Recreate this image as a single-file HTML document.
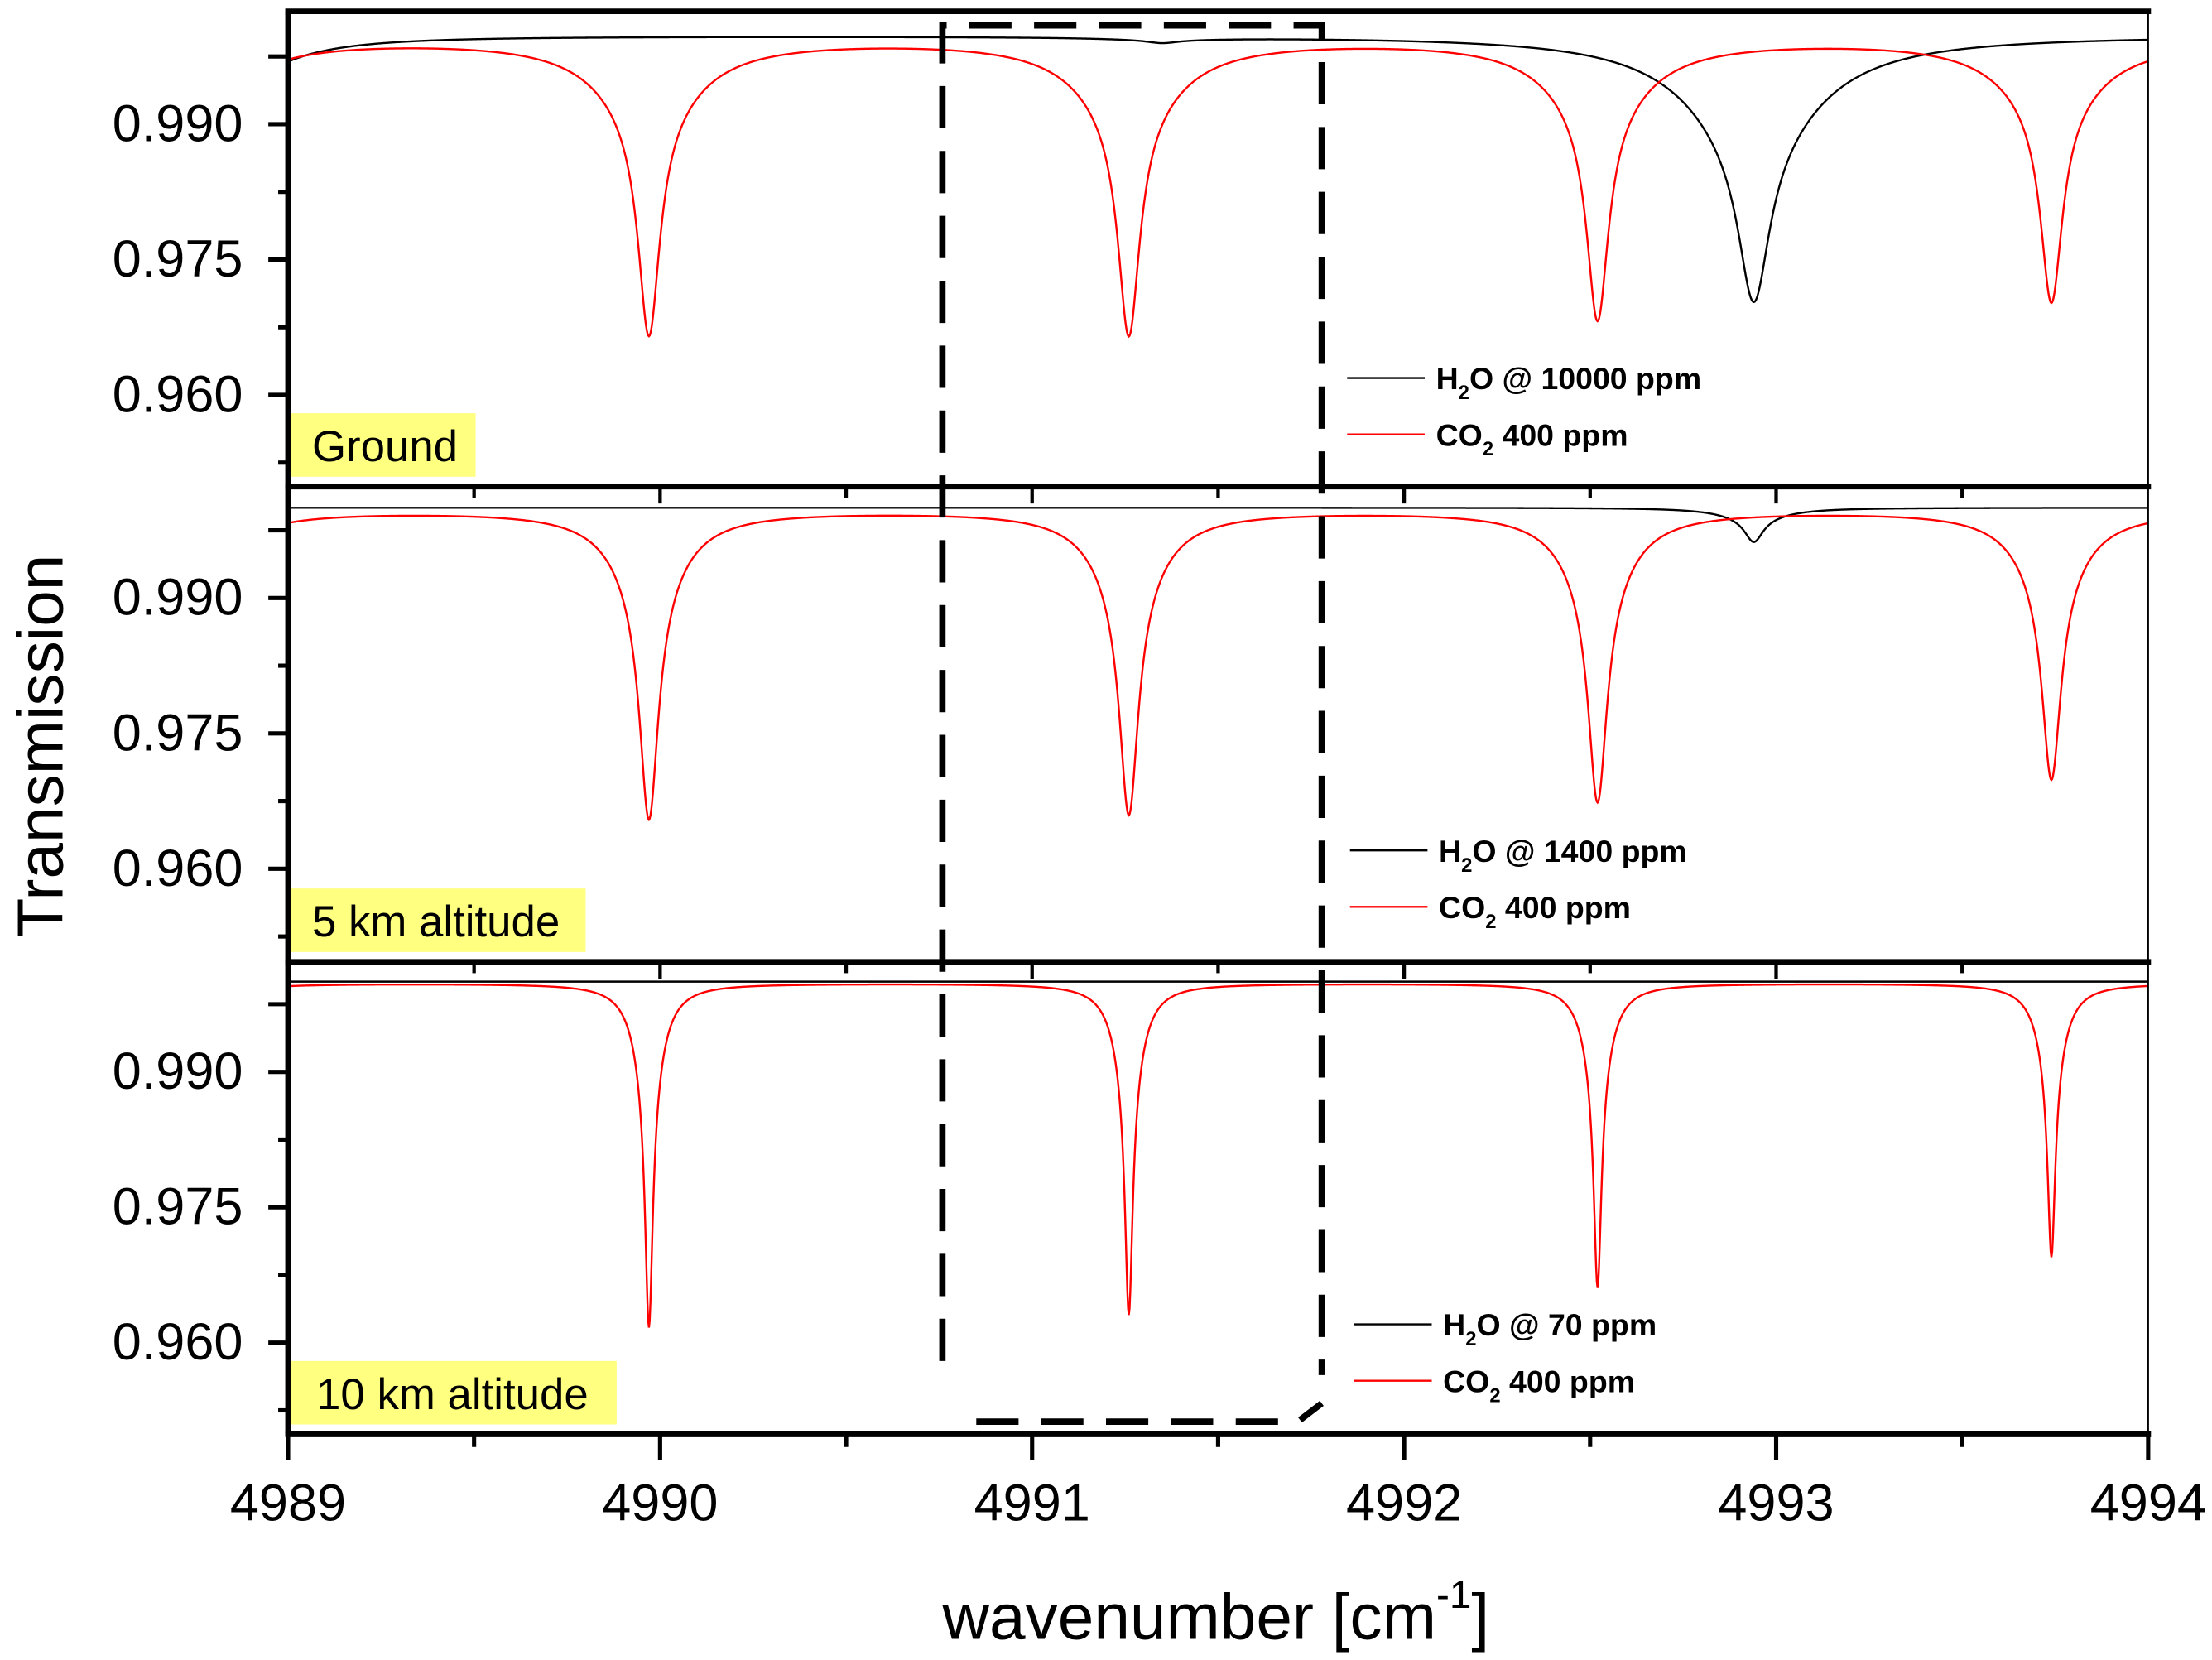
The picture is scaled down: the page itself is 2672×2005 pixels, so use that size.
<!DOCTYPE html>
<html><head><meta charset="utf-8"><style>
html,body{margin:0;padding:0;background:#fff;}
svg{display:block;}
text{font-family:"Liberation Sans",Arial,sans-serif;}
</style></head><body>
<svg id="chart" width="2672" height="2005" viewBox="0 0 1568 1177" xmlns="http://www.w3.org/2000/svg">
<rect x="0" y="0" width="1568" height="1177" fill="#fff"/>
<g id="plots"></g>
<g id="frame"></g>
<text x="0" y="0" font-size="46" text-anchor="middle" transform="translate(44,529) rotate(-90)">Transmission</text>
<text x="668" y="1162" font-size="46">wavenumber [cm<tspan font-size="28" dy="-22">-1</tspan><tspan dy="22">]</tspan></text>
</svg>
<script>
// ---- data ----
const xTickValues = [4989, 4990, 4991, 4992, 4993, 4994];
const xTickLabels = ["4989", "4990", "4991", "4992", "4993", "4994"];
const yTickLabelValues = [0.990, 0.975, 0.960];
const yTickLabels = ["0.990", "0.975", "0.960"];
const panelNames = ["Ground", "5 km altitude", "10 km altitude"];
const h2oLegend = ["10000 ppm", "1400 ppm", "70 ppm"];
const co2Centers = [4988.72, 4989.97, 4991.26, 4992.52, 4993.74, 4994.97];
const co2MinGround = [0.969, 0.9668, 0.9668, 0.9685, 0.9705, 0.971];
const co2MinMid = [0.966, 0.9656, 0.9661, 0.9675, 0.970, 0.971];
const co2MinHigh = [0.962, 0.9617, 0.9631, 0.9661, 0.9695, 0.970];
const co2Base = [0.9995, 0.9997, 0.9998];
const h2oCentersGround = [4988.85, 4991.35, 4992.94];
const h2oMinGround = [0.9908, 0.9992, 0.9703];
const h2oCentersMid = [4992.94];
const h2oMinMid = [0.9962];
const h2oCentersHigh = [];
const h2oMinHigh = [];
const h2oBase = [0.9998, 1.0000, 1.0000];

// ---- layout ----
const X0 = 204, X1 = 1523;
const panelTop = [8, 345, 682], panelBot = [345, 682, 1017];
const y990 = [88, 424, 760];
function xs(v){ return X0 + (v - 4989) / 5 * (X1 - X0); }
function ys(p, v){ return y990[p] + (0.990 - v) * 6400; }
const shapeCO2 = [[0.035,0.15,0.25],[0.03,0.1,0.25],[0.012,0.04,0.3]];
const shapeH2O = [[0.05,0.2,0.4],[0.03,0.1,0.3],[0.02,0.05,0.3]];
function prof(d, s){ const a=s[0]*s[0], b=s[1]*s[1]; return (1-s[2])*a/(d*d+a) + s[2]*b/(d*d+b); }
const NS = "http://www.w3.org/2000/svg";
const plots = document.getElementById('plots');
const frame = document.getElementById('frame');
function mk(tag, attrs, parent){ const e=document.createElementNS(NS,tag); for(const k in attrs) e.setAttribute(k,attrs[k]); parent.appendChild(e); return e; }

function series(p, centers, mins, base, shape, color, width, name){
  let d = "";
  for (let i = 0; i <= 2500; i++){
    const x = 4989 + i * 0.002;
    let t = base;
    for (let k = 0; k < centers.length; k++) t -= (base - mins[k]) * prof(x - centers[k], shape);
    d += (i ? "L" : "M") + xs(x).toFixed(2) + "," + Math.max(panelTop[p]+1, ys(p,t)).toFixed(2);
  }
  const el = mk('path', {d:d, fill:'none', stroke:color, 'stroke-width':width}, plots);
  
  
}
const co2Mins = [co2MinGround, co2MinMid, co2MinHigh];
const h2oC = [h2oCentersGround, h2oCentersMid, h2oCentersHigh];
const h2oM = [h2oMinGround, h2oMinMid, h2oMinHigh];
const keys = ["ground","5km","10km"];
for (let p = 0; p < 3; p++){
  series(p, h2oC[p], h2oM[p], h2oBase[p], shapeH2O[p], '#000', 1.4, 'h2o-line-' + keys[p]);
  series(p, co2Centers, co2Mins[p], co2Base[p], shapeCO2[p], '#ff0000', 1.4, 'co2-line-' + keys[p]);
}

// frames, ticks, labels
for (let p = 0; p < 3; p++){
  const t = panelTop[p], b = panelBot[p];
  const ax = mk('line', {x1:X0, y1:t, x2:X0, y2:b, stroke:'#000', 'stroke-width':4}, frame);
  
  
  mk('line', {x1:X1, y1:t, x2:X1, y2:b, stroke:'#000', 'stroke-width':1.2}, frame);
  for (let v = 0.9525; v < 1.0; v += 0.0075){
    const lab = yTickLabelValues.some(q => Math.abs(q - v) < 1e-6) || Math.abs(v-0.9975)<1e-6;
    mk('line', {x1:X0 - (lab ? 14 : 7), y1:ys(p,v), x2:X0, y2:ys(p,v), stroke:'#000', 'stroke-width':3}, frame);
  }
  for (let i = 0; i < yTickLabelValues.length; i++){
    const tx = mk('text', {x:172, y:ys(p, yTickLabelValues[i]) + 12, 'font-size':37, 'text-anchor':'end'}, frame);
    tx.textContent = yTickLabels[i];
    
    
  }
  for (let v = 4989.5; v < 4994; v += 0.5){
    const major = Math.abs(v - Math.round(v)) < 1e-6;
    if (p > 0) mk('line', {x1:xs(v), y1:t, x2:xs(v), y2:t + (major ? 12 : 8), stroke:'#000', 'stroke-width':2.5}, frame);
  }
  const bw = [131, 209, 231][p];
  const rb = mk('rect', {x:206, y:b - 52, width:bw, height:45, fill:'#ffff80'}, frame);
  
  
  const lt = mk('text', {x:221 + (p===2?3:0), y:b - 18, 'font-size':31}, frame);
  lt.textContent = panelNames[p];
  
  
  const lx = [955, 957, 960][p], ly = [268, 603, 939][p];
  mk('line', {x1:lx, y1:ly, x2:lx+55, y2:ly, stroke:'#000', 'stroke-width':1.4}, frame);
  mk('line', {x1:lx, y1:ly+40, x2:lx+55, y2:ly+40, stroke:'#ff0000', 'stroke-width':1.4}, frame);
  const l1 = mk('text', {x:lx+63, y:ly+8, 'font-size':22, 'font-weight':'bold'}, frame);
  l1.innerHTML = 'H<tspan font-size="14" dy="7">2</tspan><tspan dy="-7">O @ ' + h2oLegend[p] + '</tspan>';
  
  
  const l2 = mk('text', {x:lx+63, y:ly+48, 'font-size':22, 'font-weight':'bold'}, frame);
  l2.innerHTML = 'CO<tspan font-size="14" dy="7">2</tspan><tspan dy="-7"> 400 ppm</tspan>';
  
  
}
[8, 345, 682].forEach(y => mk('line', {x1:X0-2, y1:y, x2:X1+2, y2:y, stroke:'#000', 'stroke-width':4}, frame));
const xa = mk('line', {x1:X0-2, y1:1017, x2:X1+2, y2:1017, stroke:'#000', 'stroke-width':4}, frame);


for (let v = 4989; v <= 4994.001; v += 0.5){
  const major = Math.abs(v - Math.round(v)) < 1e-6;
  mk('line', {x1:xs(v), y1:1017, x2:xs(v), y2:1017 + (major ? 18 : 9), stroke:'#000', 'stroke-width':3}, frame);
}
for (let i = 0; i < xTickValues.length; i++){
  const tx = mk('text', {x:xs(xTickValues[i]), y:1078, 'font-size':37, 'text-anchor':'middle'}, frame);
  tx.textContent = xTickLabels[i];
  
  
}
const box = mk('path', {d:'M668,965 L668,18 L937,18 L937,975 M692,1008 L920,1008 L937,995', fill:'none', stroke:'#000', 'stroke-width':4.5, 'stroke-dasharray':'30,16'}, frame);


</script>
</body></html>
